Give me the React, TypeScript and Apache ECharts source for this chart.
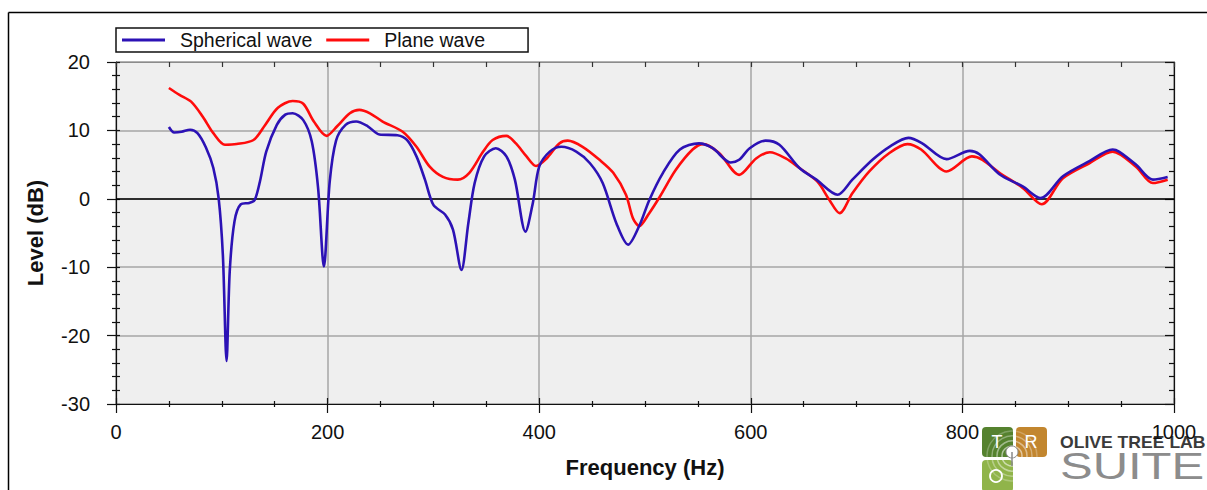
import React, { useEffect, useRef } from "react";
import * as echarts from "echarts";

const seriesNames = ["Spherical wave", "Plane wave"];

const freqSpherical = [50, 55, 62, 70, 77, 85, 92, 97, 101, 104.5, 107.5, 112, 118, 126, 131, 136, 142, 152, 160, 167, 177, 185, 191, 196.5, 202, 208, 217, 227, 238, 249, 266, 275, 284, 292, 300, 311, 318.5, 326.5, 333, 339, 348, 359, 369, 377, 387, 394, 400, 410, 421, 435, 448, 460, 473, 484, 495, 504, 517, 533, 551, 564, 581, 589, 599, 614, 627, 646, 662, 682, 696, 715, 731, 749, 762, 785, 807, 816, 835, 857, 874, 895, 920, 942, 948, 964, 980, 994];
const levelSpherical = [10.5, 9.7, 9.8, 10.1, 9.6, 7.5, 4.5, 0.1, -8.2, -23.7, -10.6, -3.3, -0.8, -0.6, -0.2, 2.5, 6.9, 10.8, 12.3, 12.5, 11.5, 8.4, 1.6, -9.9, 2.5, 8.5, 10.8, 11.3, 10.6, 9.4, 9.3, 8.6, 6.2, 2.8, -0.9, -2.3, -4.5, -10.4, -3.6, 2.3, 6.2, 7.4, 6.2, 2.8, -4.8, -0.6, 4.7, 6.9, 7.6, 6.9, 5.2, 2.3, -3.6, -6.7, -3.8, -0.2, 3.8, 7.2, 8.1, 7.4, 5.3, 5.7, 7.4, 8.5, 7.9, 4.5, 2.8, 0.6, 2.8, 5.7, 7.6, 8.9, 8.1, 5.8, 7.0, 6.5, 3.6, 1.8, 0.1, 3.3, 5.5, 7.2, 6.9, 5.0, 2.8, 3.2];

const freqPlane = [50, 60, 71, 82, 92, 103, 114, 130, 141, 153, 167, 177, 187, 199, 209, 221, 230, 240, 252, 271, 284, 296.5, 309, 323, 334, 347, 356, 369, 378, 388, 397, 407, 419, 427, 441, 457, 470, 482, 488.5, 494.5, 504, 514, 529, 545, 555, 570, 589, 605, 618, 633, 646, 663, 674, 684, 696, 712, 731, 748, 761, 785, 809, 819, 835, 857, 875, 895, 920, 942, 964, 980, 994];
const levelPlane = [16.2, 15.2, 14.2, 12.0, 9.6, 7.9, 8.0, 8.6, 10.8, 13.3, 14.3, 13.9, 11.3, 9.2, 10.6, 12.5, 13.0, 12.5, 11.3, 9.8, 7.6, 4.7, 3.2, 2.8, 3.8, 6.9, 8.6, 9.2, 8.1, 6.2, 4.8, 5.9, 8.1, 8.5, 7.6, 5.7, 3.8, 0.6, -2.8, -4.0, -2.1, 0.3, 4.2, 7.2, 8.0, 6.7, 3.5, 5.9, 6.8, 5.9, 4.5, 2.5, -0.1, -2.1, 0.8, 4.0, 6.7, 8.0, 7.2, 4.0, 6.2, 5.7, 3.8, 1.6, -0.8, 3.0, 5.2, 6.9, 4.7, 2.3, 2.8];

const xMin = 0;
const xMax = 1000;
const xInterval = 200;
const yMin = -30;
const yMax = 20;
const yInterval = 10;

const FONT = "'Liberation Sans', Arial, sans-serif";

export default function App() {
  const ref = useRef<HTMLDivElement>(null);

  useEffect(() => {
    if (!ref.current) return;
    const chart = echarts.init(ref.current, undefined, { renderer: "svg" });

    const sphData = freqSpherical.map((f, i) => [f, levelSpherical[i]]);
    const plnData = freqPlane.map((f, i) => [f, levelPlane[i]]);

    const grid = { left: 116, top: 62, width: 1058, height: 342 };

    const option: any = {
      animation: false,
      textStyle: { fontFamily: FONT },
      grid: {
        ...grid,
        show: true,
        backgroundColor: "#efefef",
        borderColor: "#a6a6a6",
        borderWidth: 1,
        containLabel: false,
      },
      legend: {
        data: seriesNames,
        left: 116,
        top: 28,
        orient: "horizontal",
        borderColor: "#111",
        borderWidth: 1.5,
        padding: [2, 43, 2, 6],
        itemGap: 14,
        itemWidth: 43,
        itemHeight: 3,
        icon: "rect",
        textStyle: { fontSize: 19.5, color: "#111", fontFamily: FONT, padding: [0, 0, 0, 10] },
      },
      xAxis: [
        {
          type: "value",
          position: "bottom",
          min: xMin,
          max: xMax,
          interval: xInterval,
          name: "Frequency (Hz)",
          nameLocation: "middle",
          nameGap: 52,
          nameTextStyle: { fontSize: 22, fontWeight: "bold", color: "#111", fontFamily: FONT },
          axisLine: { show: true, onZero: false, lineStyle: { color: "#111", width: 1.2 } },
          axisTick: { show: true, length: 9, lineStyle: { color: "#111", width: 1.2 } },
          minorTick: { show: true, splitNumber: 4, length: 3, lineStyle: { color: "#111", width: 1.2 } },
          axisLabel: { fontSize: 20, color: "#111", margin: 18, fontFamily: FONT, formatter: (v: number) => String(v) },
          splitLine: { show: true, lineStyle: { color: "#a6a6a6", width: 1.5 } },
        },
        {
          type: "value",
          position: "bottom",
          min: xMin,
          max: xMax,
          interval: xInterval,
          axisLine: { show: false, onZero: false },
          axisTick: { show: true, inside: true, length: 6, lineStyle: { color: "#111", width: 1.2 } },
          minorTick: { show: true, splitNumber: 4, length: 3, lineStyle: { color: "#111", width: 1.2 } },
          axisLabel: { show: false },
          splitLine: { show: false },
        },
        {
          type: "value",
          position: "top",
          min: xMin,
          max: xMax,
          interval: 50,
          axisLine: { show: true, onZero: false, lineStyle: { color: "#8c8c8c", width: 1.2 } },
          axisTick: { show: true, inside: true, length: 5, lineStyle: { color: "#333", width: 1.2 } },
          axisLabel: { show: false },
          splitLine: { show: false },
        },
      ],
      yAxis: [
        {
          type: "value",
          position: "left",
          min: yMin,
          max: yMax,
          interval: yInterval,
          name: "Level (dB)",
          nameLocation: "middle",
          nameGap: 70,
          nameTextStyle: { fontSize: 22, fontWeight: "bold", color: "#111", fontFamily: FONT },
          axisLine: { show: true, onZero: false, lineStyle: { color: "#111", width: 1.2 } },
          axisTick: { show: true, length: 9, lineStyle: { color: "#111", width: 1.2 } },
          minorTick: { show: true, splitNumber: 5, length: 4, lineStyle: { color: "#111", width: 1.2 } },
          axisLabel: { fontSize: 20, color: "#111", margin: 26, fontFamily: FONT },
          splitLine: { show: true, lineStyle: { color: "#a6a6a6", width: 1.5 } },
        },
        {
          type: "value",
          position: "left",
          min: yMin,
          max: yMax,
          interval: yInterval,
          axisLine: { show: false, onZero: false },
          axisTick: { show: true, inside: true, length: 4, lineStyle: { color: "#111", width: 1.2 } },
          minorTick: { show: true, splitNumber: 5, length: 4, lineStyle: { color: "#111", width: 1.2 } },
          axisLabel: { show: false },
          splitLine: { show: false },
        },
        {
          type: "value",
          position: "right",
          min: yMin,
          max: yMax,
          interval: yInterval,
          axisLine: { show: true, onZero: false, lineStyle: { color: "#111", width: 1.2 } },
          axisTick: { show: true, inside: true, length: 9, lineStyle: { color: "#111", width: 1.2 } },
          minorTick: { show: true, splitNumber: 5, length: 5, lineStyle: { color: "#111", width: 1.2 } },
          axisLabel: { show: false },
          splitLine: { show: false },
        },
      ],
      series: [
        {
          name: seriesNames[0],
          type: "line",
          xAxisIndex: 0,
          yAxisIndex: 0,
          data: sphData,
          showSymbol: false,
          smooth: 0.3,
          color: "#2c12b5",
          lineStyle: { color: "#2c12b5", width: 2.6 },
          z: 3,
          markLine: {
            silent: true,
            symbol: ["none", "none"],
            label: { show: false },
            lineStyle: { color: "#000", type: "solid", width: 1.5 },
            data: [{ yAxis: 0 }],
            z: 1,
          },
        },
        {
          name: seriesNames[1],
          type: "line",
          xAxisIndex: 0,
          yAxisIndex: 0,
          data: plnData,
          showSymbol: false,
          smooth: 0.3,
          color: "#ff0c0c",
          lineStyle: { color: "#ff0c0c", width: 2.6 },
          z: 2,
        },
      ],
      graphic: [
        { type: "line", shape: { x1: 8.5, y1: 12.5, x2: 1207, y2: 12.5 }, style: { stroke: "#000", lineWidth: 1.5 }, silent: true },
        { type: "line", shape: { x1: 8.5, y1: 12.5, x2: 8.5, y2: 490 }, style: { stroke: "#000", lineWidth: 1.5 }, silent: true },
        {
          type: "group",
          silent: true,
          z: 10,
          children: [
            { type: "rect", shape: { x: 982, y: 427, width: 31, height: 30, r: 4 }, style: { fill: "#55822f" } },
            { type: "rect", shape: { x: 1016, y: 427, width: 31, height: 30, r: 4 }, style: { fill: "#c2862f" } },
            { type: "rect", shape: { x: 982, y: 460, width: 31, height: 32, r: 4 }, style: { fill: "#90b44a" } },
            { type: "circle", shape: { cx: 1012, cy: 456, r: 10 }, style: { fill: "none", stroke: "rgba(255,255,255,0.55)", lineWidth: 1.5 } },
            { type: "circle", shape: { cx: 1012, cy: 456, r: 15 }, style: { fill: "none", stroke: "rgba(255,255,255,0.45)", lineWidth: 1.5 } },
            { type: "circle", shape: { cx: 1012, cy: 456, r: 20 }, style: { fill: "none", stroke: "rgba(255,255,255,0.35)", lineWidth: 1.5 } },
            { type: "circle", shape: { cx: 1012, cy: 456, r: 25 }, style: { fill: "none", stroke: "rgba(255,255,255,0.25)", lineWidth: 1.5 } },
            { type: "circle", shape: { cx: 1012, cy: 452, r: 6 }, style: { fill: "#fff", stroke: "#8a8a8a", lineWidth: 1 } },
            { type: "line", shape: { x1: 1012, y1: 452, x2: 1012, y2: 466 }, style: { stroke: "#8a8a8a", lineWidth: 1.5 } },
            { type: "text", x: 997, y: 442, style: { text: "T", fill: "#fff", font: `18px ${FONT}`, textAlign: "center", textVerticalAlign: "middle" } },
            { type: "text", x: 1031, y: 442, style: { text: "R", fill: "#fff", font: `18px ${FONT}`, textAlign: "center", textVerticalAlign: "middle" } },
            { type: "circle", shape: { cx: 996, cy: 476, r: 6 }, style: { fill: "none", stroke: "#fff", lineWidth: 1.8 } },
            { type: "text", x: 1060, y: 443, scaleX: 1.1, style: { text: "OLIVE TREE LAB", fill: "#3a3a3a", font: `bold 16px ${FONT}`, textAlign: "left", textVerticalAlign: "middle" } },
            { type: "text", x: 1060, y: 466, scaleX: 1.36, style: { text: "SUITE", fill: "#8c8c8c", font: `36px ${FONT}`, textAlign: "left", textVerticalAlign: "middle" } },
          ],
        },
      ],
    };

    chart.setOption(option);
    return () => {
      chart.dispose();
    };
  }, []);

  return (
    <div
      ref={ref}
      style={{ position: "absolute", left: 0, top: 0, width: 1207, height: 490, background: "#fff" }}
    />
  );
}
